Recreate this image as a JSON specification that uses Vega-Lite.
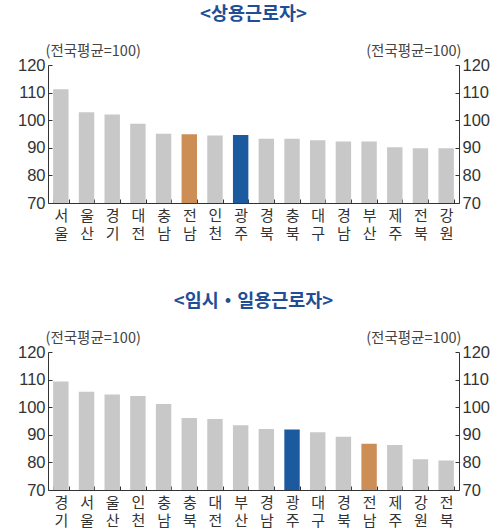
{
  "$schema": "https://vega.github.io/schema/vega-lite/v6.json",
  "background": "white",
  "padding": {"left": 17, "right": 5, "top": 4, "bottom": 0},
  "datasets": {
    "regular": [
      {"region": "서울", "value": 111.2},
      {"region": "울산", "value": 102.9},
      {"region": "경기", "value": 102.1},
      {"region": "대전", "value": 98.7},
      {"region": "충남", "value": 95.1},
      {"region": "전남", "value": 94.9},
      {"region": "인천", "value": 94.5},
      {"region": "광주", "value": 94.6},
      {"region": "경북", "value": 93.3},
      {"region": "충북", "value": 93.3},
      {"region": "대구", "value": 92.7},
      {"region": "경남", "value": 92.3},
      {"region": "부산", "value": 92.3},
      {"region": "제주", "value": 90.2},
      {"region": "전북", "value": 89.8},
      {"region": "강원", "value": 89.8}
    ],
    "temporary": [
      {"region": "경기", "value": 109.3},
      {"region": "서울", "value": 105.6},
      {"region": "울산", "value": 104.6},
      {"region": "인천", "value": 104.1},
      {"region": "충남", "value": 101.2},
      {"region": "충북", "value": 96.1},
      {"region": "대전", "value": 95.7},
      {"region": "부산", "value": 93.5},
      {"region": "경남", "value": 92.1},
      {"region": "광주", "value": 91.9},
      {"region": "대구", "value": 90.9},
      {"region": "경북", "value": 89.3},
      {"region": "전남", "value": 86.8},
      {"region": "제주", "value": 86.3},
      {"region": "강원", "value": 81.1},
      {"region": "전북", "value": 80.7}
    ]
  },
  "spacing": 50,
  "vconcat": [
    {
      "title": {"text": "<상용근로자>"},
      "data": {"name": "regular"},
      "width": 411,
      "height": 138,
      "layer": [
        {
          "mark": {"type": "bar", "clip": true},
          "encoding": {
            "x": {"field": "region", "type": "nominal", "sort": null, "scale": {"paddingInner": 0.4, "paddingOuter": 0.2}},
            "y": {"field": "value", "type": "quantitative", "scale": {"domain": [70, 120], "zero": false, "nice": false},
                  "axis": {"orient": "left", "title": "(전국평균=100)", "titleX": -3, "titleAlign": "left"}},
            "color": {"condition": [{"test": "datum.region === '광주'", "value": "#1c5aa0"}, {"test": "datum.region === '전남'", "value": "#cc8e55"}], "value": "#c8c8c8"}
          }
        },
        {
          "mark": {"type": "bar", "opacity": 0, "clip": true},
          "encoding": {
            "x": {"field": "region", "type": "nominal", "sort": null, "axis": null},
            "y": {"field": "value", "type": "quantitative",
                  "axis": {"orient": "right", "title": "(전국평균=100)", "titleX": 2, "titleAlign": "right"}}
          }
        }
      ],
      "resolve": {"axis": {"y": "independent", "x": "independent"}}
    },
    {
      "title": {"text": "<임시・일용근로자>"},
      "data": {"name": "temporary"},
      "width": 411,
      "height": 138,
      "layer": [
        {
          "mark": {"type": "bar", "clip": true},
          "encoding": {
            "x": {"field": "region", "type": "nominal", "sort": null, "scale": {"paddingInner": 0.4, "paddingOuter": 0.2}},
            "y": {"field": "value", "type": "quantitative", "scale": {"domain": [70, 120], "zero": false, "nice": false},
                  "axis": {"orient": "left", "title": "(전국평균=100)", "titleX": -3, "titleAlign": "left"}},
            "color": {"condition": [{"test": "datum.region === '광주'", "value": "#1c5aa0"}, {"test": "datum.region === '전남'", "value": "#cc8e55"}], "value": "#c8c8c8"}
          }
        },
        {
          "mark": {"type": "bar", "opacity": 0, "clip": true},
          "encoding": {
            "x": {"field": "region", "type": "nominal", "sort": null, "axis": null},
            "y": {"field": "value", "type": "quantitative",
                  "axis": {"orient": "right", "title": "(전국평균=100)", "titleX": 2, "titleAlign": "right"}}
          }
        }
      ],
      "resolve": {"axis": {"y": "independent", "x": "independent"}}
    }
  ],
  "config": {
    "view": {"stroke": null},
    "title": {"font": "Noto Sans CJK KR", "fontSize": 18.5, "fontWeight": "bold", "color": "#1f4e96", "anchor": "middle", "offset": 20},
    "axisX": {
      "title": null,
      "labelAngle": 0,
      "labelExpr": "[substring(datum.label,0,1), substring(datum.label,1,2)]",
      "labelFont": "Noto Sans CJK KR",
      "labelFontSize": 15,
      "labelLineHeight": 18,
      "labelColor": "#333",
      "labelPadding": 9,
      "tickBand": "extent",
      "tickSize": -4,
      "tickColor": "#333",
      "domainColor": "#333",
      "grid": false
    },
    "axisY": {
      "values": [70, 80, 90, 100, 110, 120],
      "labelFont": "Liberation Sans",
      "labelFontSize": 16.5,
      "labelColor": "#333",
      "labelPadding": 7,
      "tickSize": -4,
      "tickColor": "#333",
      "domainColor": "#333",
      "grid": false,
      "titleAngle": 0,
      "titleY": -14,
      "titleBaseline": "middle",
      "titleFont": "Noto Sans CJK KR",
      "titleFontSize": 14.5,
      "titleFontWeight": "normal",
      "titleColor": "#444"
    }
  }
}
